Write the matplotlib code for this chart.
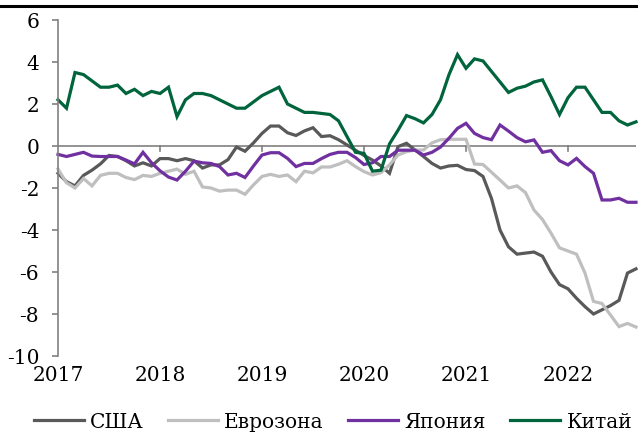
import matplotlib
matplotlib.use("Agg")
import matplotlib.pyplot as plt
from matplotlib.lines import Line2D
import numpy as np

plt.rcParams['font.family'] = ['DejaVu Serif']
plt.rcParams['axes.unicode_minus'] = False

years = ["2017", "2018", "2019", "2020", "2021", "2022"]
series_names = ["США", "Еврозона", "Япония", "Китай"]

usa = [-1.3, -1.7, -1.9, -1.4, -1.15, -0.85, -0.45, -0.5, -0.7, -0.95,
       -0.8, -0.95, -0.6, -0.6, -0.7, -0.6, -0.7, -1.05, -0.9, -0.9,
       -0.65, -0.05, -0.25, 0.15, 0.6, 0.95, 0.95, 0.63, 0.5, 0.72,
       0.87, 0.45, 0.49, 0.3, 0.05, -0.2, -0.45, -0.67, -0.95, -1.3,
       -0.03, 0.13, -0.19, -0.5, -0.83, -1.05, -0.95, -0.92, -1.12, -1.17,
       -1.45, -2.5, -4.0, -4.8, -5.15, -5.1, -5.05, -5.25, -6.0, -6.6,
       -6.8, -7.25, -7.65, -8.0, -7.8, -7.6, -7.35, -6.05, -5.85]

euro = [-1.1, -1.75, -2.0, -1.55, -1.9, -1.4, -1.3, -1.3, -1.5, -1.6,
        -1.4, -1.45, -1.3, -1.2, -1.1, -1.35, -1.2, -1.95, -2.0, -2.15,
        -2.1, -2.1, -2.3, -1.85, -1.45, -1.35, -1.45, -1.38, -1.7, -1.2,
        -1.28, -1.0, -1.0, -0.87, -0.7, -0.98, -1.22, -1.38, -1.27, -0.9,
        -0.43, -0.27, -0.19, -0.19, 0.15, 0.3, 0.32, 0.32, 0.32, -0.86,
        -0.88, -1.25, -1.62, -2.0, -1.9, -2.22, -3.05, -3.5, -4.15, -4.85,
        -5.0, -5.15, -6.05, -7.4, -7.5, -8.05, -8.6, -8.45, -8.62]

japan = [-0.4, -0.5, -0.4, -0.3, -0.48, -0.5, -0.5, -0.5, -0.67, -0.85,
         -0.3, -0.8, -1.18, -1.48, -1.62, -1.2, -0.72, -0.8, -0.83, -0.98,
         -1.38, -1.3, -1.5, -0.95, -0.43, -0.32, -0.32, -0.59, -0.98, -0.83,
         -0.83, -0.6, -0.4, -0.3, -0.3, -0.55, -0.88, -0.8, -0.5, -0.5,
         -0.2, -0.2, -0.2, -0.43, -0.3, -0.05, 0.37, 0.84, 1.08, 0.6,
         0.4, 0.3, 1.0, 0.71, 0.4, 0.2, 0.29, -0.3, -0.22, -0.7,
         -0.9, -0.59, -0.98, -1.3, -2.57, -2.57, -2.49, -2.68, -2.68]

china = [2.2, 1.8, 3.5, 3.4, 3.1, 2.8, 2.8, 2.9, 2.5, 2.7,
         2.4, 2.6, 2.5, 2.8, 1.4, 2.2, 2.5, 2.5, 2.4, 2.2,
         2.0, 1.8, 1.8, 2.1, 2.4, 2.6, 2.8, 2.0, 1.8, 1.6,
         1.6, 1.55, 1.5, 1.2, 0.45, -0.3, -0.35, -1.2, -1.15, 0.1,
         0.75, 1.45, 1.3, 1.1, 1.5, 2.2, 3.4, 4.35, 3.7, 4.15,
         4.05, 3.55, 3.05, 2.55, 2.75, 2.85, 3.05, 3.15, 2.35, 1.5,
         2.3, 2.8, 2.8, 2.2, 1.6, 1.6, 1.2, 1.0, 1.15]

colors = ["#595959", "#BFBFBF", "#7030A0", "#00643C"]

W, H = 638, 432
fig = plt.figure(figsize=(W / 100, H / 100), dpi=100)
ax = fig.add_axes([58 / W, (H - 356) / H, (636 - 58) / W, (356 - 20) / H])

all_series = [usa, euro, japan, china]
for name, vals, c in zip(series_names, all_series, colors):
    x = np.arange(len(vals))
    ax.plot(x, vals, color=c, lw=2.3, label=name, solid_joinstyle='miter',
            clip_on=False)

n = len(china)
ax.set_xlim(0, n - 1)
ax.set_ylim(-10, 6)

grey = "#808080"
ax.axhline(0, color=grey, lw=1.2, zorder=0)
for s in ["top", "right", "bottom"]:
    ax.spines[s].set_visible(False)
ax.spines["left"].set_color(grey)
ax.spines["left"].set_linewidth(1.2)

yt = list(range(-10, 7, 2))
ax.set_yticks(yt)
ax.set_yticklabels([str(v) for v in yt])
ax.tick_params(axis='y', direction='out', length=4.5, width=1.2, color=grey,
               pad=9, labelsize=14.5, labelcolor='black')

# year ticks hanging from the zero line
xt = [12 * k for k in range(len(years))]
ax.set_xticks([])
for k, xv in enumerate(xt):
    if k > 0:
        ax.plot([xv, xv], [0, -0.25], color=grey, lw=1.2, zorder=0)
    ax.text(xv, -10.95, years[k], ha='center', va='center', fontsize=14.5,
            clip_on=False)

fig.add_artist(Line2D([0, 1], [1 - 6 / H, 1 - 6 / H], color='black', lw=2.2,
                      transform=fig.transFigure))

fig.legend(loc='center', bbox_to_anchor=(333 / W, 1 - 422 / H), ncol=4,
           frameon=False, fontsize=14.5, handlelength=2.5, handletextpad=0.3,
           columnspacing=1.2, borderaxespad=0, borderpad=0)

fig.savefig("out.png", dpi=100)
